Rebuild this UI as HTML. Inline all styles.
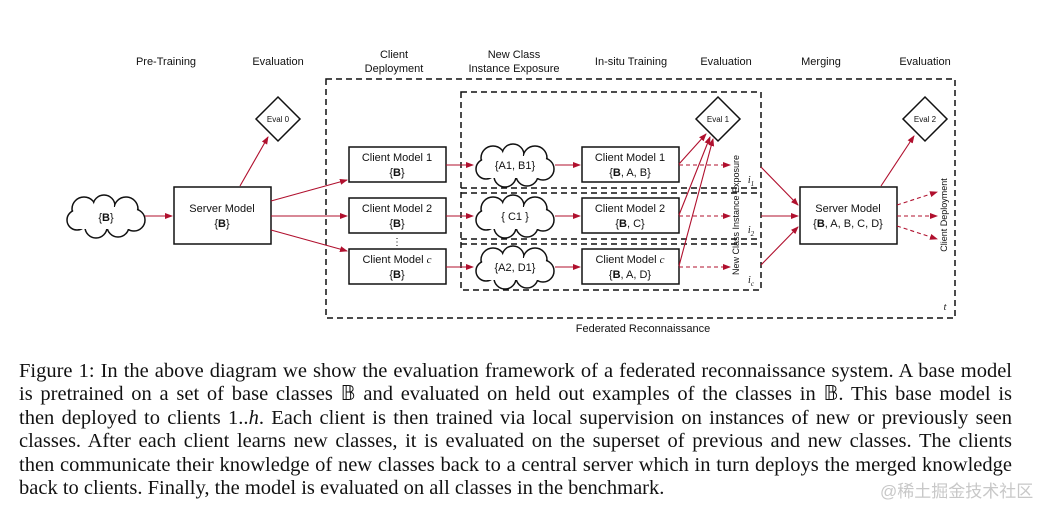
<!DOCTYPE html>
<html><head><meta charset="utf-8"><style>
body{margin:0;width:1058px;height:514px;background:#fff;position:relative;overflow:hidden}
svg{position:absolute;left:0;top:0}
.cap{position:absolute;left:19px;top:360px;width:993px;font-family:"Liberation Serif",serif;font-size:20.5px;line-height:23.4px;color:#111}
.cap div{text-align:justify;text-align-last:justify;white-space:nowrap}
.cap div.last{text-align-last:left}
.wm{position:absolute;left:880px;top:477px;font-family:"Liberation Sans","Noto Sans CJK SC",sans-serif;font-size:17px;color:#c8c8c8}
</style></head><body>
<svg width="1058" height="350" viewBox="0 0 1058 350" font-family="Liberation Sans, sans-serif">
<defs>
<marker id="a" markerWidth="8" markerHeight="8" refX="7" refY="4" orient="auto" markerUnits="userSpaceOnUse"><path d="M0,1 L8,4 L0,7z" fill="#b0102e"/></marker>
<g id="cl">
<g fill="#fff" stroke="#111" stroke-width="1.5">
<circle cx="18" cy="14" r="12"/><circle cx="38" cy="11" r="11"/><circle cx="60" cy="14" r="12"/><circle cx="68" cy="25" r="11"/><circle cx="52" cy="31" r="11"/><circle cx="30" cy="32" r="11"/><circle cx="11" cy="25" r="10"/>
</g>
<g fill="#fff">
<circle cx="18" cy="14" r="11"/><circle cx="38" cy="11" r="10"/><circle cx="60" cy="14" r="11"/><circle cx="68" cy="25" r="10"/><circle cx="52" cy="31" r="10"/><circle cx="30" cy="32" r="10"/><circle cx="11" cy="25" r="9"/><rect x="12" y="12" width="56" height="22"/>
</g></g>
</defs>
<g font-size="11" fill="#111" text-anchor="middle">
<text x="166" y="65">Pre-Training</text>
<text x="278" y="65">Evaluation</text>
<text x="394" y="58">Client</text><text x="394" y="72">Deployment</text>
<text x="514" y="58">New Class</text><text x="514" y="72">Instance Exposure</text>
<text x="631" y="65">In-situ Training</text>
<text x="726" y="65">Evaluation</text>
<text x="821" y="65">Merging</text>
<text x="925" y="65">Evaluation</text>
<text x="643" y="332">Federated Reconnaissance</text>
</g>
<g fill="none" stroke="#111" stroke-width="1.5" stroke-dasharray="6,4">
<rect x="326" y="79" width="629" height="239"/>
<rect x="461" y="92" width="300" height="198"/>
<line x1="461" y1="188" x2="761" y2="188"/><line x1="461" y1="193" x2="761" y2="193"/>
<line x1="461" y1="239" x2="761" y2="239"/><line x1="461" y1="244" x2="761" y2="244"/>
</g>
<use href="#cl" x="66" y="195"/>
<use href="#cl" x="475" y="144"/>
<use href="#cl" x="475" y="195"/>
<use href="#cl" x="475" y="246"/>
<g font-size="11" fill="#111" text-anchor="middle">
<text x="106" y="221">{<tspan font-weight="bold">B</tspan>}</text>
<text x="515" y="169">{A1, B1}</text>
<text x="515" y="220">{ C1 }</text>
<text x="515" y="271">{A2, D1}</text>
</g>
<g fill="#fff" stroke="#111" stroke-width="1.5">
<rect x="174" y="187" width="97" height="57"/>
<rect x="349" y="147" width="97" height="35"/>
<rect x="349" y="198" width="97" height="35"/>
<rect x="349" y="249" width="97" height="35"/>
<rect x="582" y="147" width="97" height="35"/>
<rect x="582" y="198" width="97" height="35"/>
<rect x="582" y="249" width="97" height="35"/>
<rect x="800" y="187" width="97" height="57"/>
<path d="M278,97 L300,119 L278,141 L256,119z"/>
<path d="M718,97 L740,119 L718,141 L696,119z"/>
<path d="M925,97 L947,119 L925,141 L903,119z"/>
</g>
<g font-size="11" fill="#111" text-anchor="middle">
<text x="222" y="212">Server Model</text><text x="222" y="227">{<tspan font-weight="bold">B</tspan>}</text>
<text x="397" y="161">Client Model 1</text><text x="397" y="176">{<tspan font-weight="bold">B</tspan>}</text>
<text x="397" y="212">Client Model 2</text><text x="397" y="227">{<tspan font-weight="bold">B</tspan>}</text>
<text x="397" y="263">Client Model <tspan font-family="Liberation Serif" font-style="italic">c</tspan></text><text x="397" y="278">{<tspan font-weight="bold">B</tspan>}</text>
<text x="630" y="161">Client Model 1</text><text x="630" y="176">{<tspan font-weight="bold">B</tspan>, A, B}</text>
<text x="630" y="212">Client Model 2</text><text x="630" y="227">{<tspan font-weight="bold">B</tspan>, C}</text>
<text x="630" y="263">Client Model <tspan font-family="Liberation Serif" font-style="italic">c</tspan></text><text x="630" y="278">{<tspan font-weight="bold">B</tspan>, A, D}</text>
<text x="848" y="212">Server Model</text><text x="848" y="227">{<tspan font-weight="bold">B</tspan>, A, B, C, D}</text>
<text x="397" y="245" font-size="10">⋮</text>
<g font-size="8"><text x="278" y="122">Eval 0</text><text x="718" y="122">Eval 1</text><text x="925" y="122">Eval 2</text></g>
<g font-size="9"><text transform="translate(739,215) rotate(-90)">New Class Instance Exposure</text>
<text transform="translate(947,215) rotate(-90)">Client Deployment</text></g>
<g font-family="Liberation Serif" font-style="italic" font-size="10">
<text x="751" y="183">i<tspan font-size="7" dy="3">1</tspan></text>
<text x="751" y="233">i<tspan font-size="7" dy="3">2</tspan></text>
<text x="751" y="283">i<tspan font-size="7" dy="3">c</tspan></text>
<text x="945" y="310">t</text>
</g>
</g>
<g stroke="#b0102e" stroke-width="1.1" fill="none" marker-end="url(#a)">
<line x1="145" y1="216" x2="172" y2="216"/>
<line x1="240" y1="186" x2="268" y2="137"/>
<line x1="271" y1="201" x2="347" y2="180"/>
<line x1="271" y1="216" x2="347" y2="216"/>
<line x1="271" y1="230" x2="347" y2="251"/>
<line x1="446" y1="165" x2="473" y2="165"/>
<line x1="446" y1="216" x2="473" y2="216"/>
<line x1="446" y1="267" x2="473" y2="267"/>
<line x1="555" y1="165" x2="580" y2="165"/>
<line x1="555" y1="216" x2="580" y2="216"/>
<line x1="555" y1="267" x2="580" y2="267"/>
<line x1="679" y1="164" x2="706" y2="134"/>
<line x1="679" y1="215" x2="710" y2="137"/>
<line x1="679" y1="266" x2="713" y2="139"/>
<line x1="761" y1="167" x2="798" y2="205"/>
<line x1="761" y1="216" x2="798" y2="216"/>
<line x1="761" y1="265" x2="798" y2="227"/>
<line x1="881" y1="186" x2="914" y2="136"/>
</g>
<g stroke="#b0102e" stroke-width="1.1" fill="none" stroke-dasharray="4,3" marker-end="url(#a)">
<line x1="679" y1="165" x2="730" y2="165"/>
<line x1="679" y1="216" x2="730" y2="216"/>
<line x1="679" y1="267" x2="730" y2="267"/>
<line x1="897" y1="205" x2="937" y2="192"/>
<line x1="897" y1="216" x2="937" y2="216"/>
<line x1="897" y1="226" x2="937" y2="239"/>
</g>
</svg>
<div class="cap">
<div>Figure 1: In the above diagram we show the evaluation framework of a federated reconnaissance system. A base model</div>
<div>is pretrained on a set of base classes 𝔹 and evaluated on held out examples of the classes in 𝔹. This base model is</div>
<div>then deployed to clients 1..<i>h</i>. Each client is then trained via local supervision on instances of new or previously seen</div>
<div>classes. After each client learns new classes, it is evaluated on the superset of previous and new classes. The clients</div>
<div>then communicate their knowledge of new classes back to a central server which in turn deploys the merged knowledge</div>
<div class="last">back to clients. Finally, the model is evaluated on all classes in the benchmark.</div>
</div>
<div class="wm">@稀土掘金技术社区</div>
</body></html>
